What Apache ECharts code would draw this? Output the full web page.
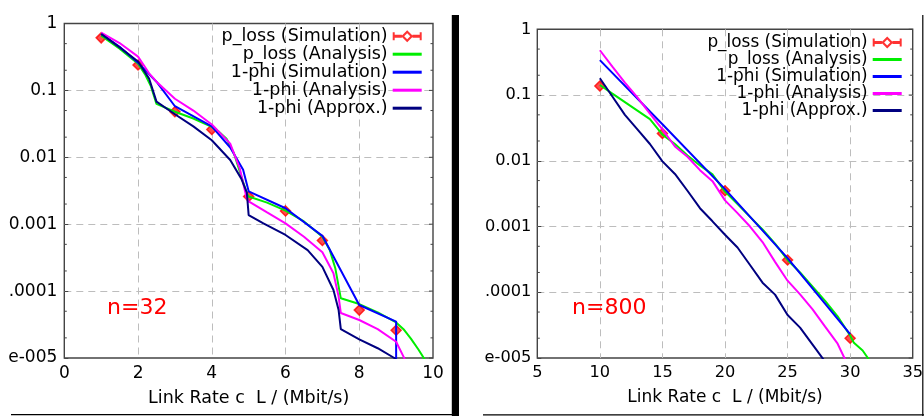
<!DOCTYPE html>
<html>
<head>
<meta charset="utf-8">
<script src="https://cdn.jsdelivr.net/npm/echarts@6/dist/echarts.min.js"></script>
<style>
  html, body { margin: 0; padding: 0; background: #fff; }
  #chart { width: 924px; height: 416px; }
</style>
</head>
<body>
<div id="chart"></div>
<script>
// ---- Series names ----
const seriesNames = [
  'p_loss (Simulation)',
  'p_loss (Analysis)',
  '1-phi (Simulation)',
  '1-phi (Analysis)',
  '1-phi (Approx.)'
];

// ---- Axis ticks ----
const yTickValues = [1e-5, 1e-4, 1e-3, 1e-2, 1e-1, 1];
const yTickLabels = ['1e-005', '0.0001', '0.001', '0.01', '0.1', '1'];
const yMinorTicks = [2e-5, 5e-5, 2e-4, 5e-4, 0.002, 0.005, 0.02, 0.05, 0.2, 0.5];
const xTicksLeft = [0, 2, 4, 6, 8, 10];
const xTicksRight = [5, 10, 15, 20, 25, 30, 35];

// ---- n=32 panel ----
const xSimL = [1, 2, 3, 4, 5, 6, 7, 8, 9];
const pLossSimL = [0.61, 0.24, 0.048, 0.026, 0.0026, 0.00158, 0.00057, 0.000052, 0.000026];

const xPLossAnaL = [1, 1.5, 2, 2.2, 2.35, 2.5, 3, 3.5, 4, 4.2, 4.4, 4.6, 4.8, 4.95, 5, 5.5, 6, 6.5, 7, 7.2, 7.35, 7.45, 7.5, 8, 8.5, 9, 9.2, 9.4, 9.6, 9.75, 9.85];
const pLossAnaL = [0.66, 0.42, 0.25, 0.17, 0.115, 0.063, 0.048, 0.038, 0.0285, 0.024, 0.019, 0.0115, 0.0052, 0.0029, 0.0026, 0.0021, 0.0016, 0.0011, 0.00065, 0.00041, 0.00022, 0.00011, 0.000078, 0.000064, 0.000048, 0.000034, 0.000027, 0.0000195, 0.0000135, 0.00001, 0.000008];

const xPhiSimL = [1, 1.5, 2, 2.5, 3, 4, 4.5, 4.85, 5, 6, 7, 8, 9, 9];
const phiSimL = [0.70, 0.45, 0.26, 0.135, 0.058, 0.029, 0.014, 0.0065, 0.0031, 0.00173, 0.00067, 0.000062, 0.000035, 0.0000001];

const xPhiAnaL = [1, 1.5, 2, 2.3, 2.5, 3, 3.5, 4, 4.5, 4.76, 4.95, 5, 5.5, 6, 6.5, 7, 7.3, 7.44, 7.5, 8, 8.5, 9, 9.2, 9.3];
const phiAnaL = [0.73, 0.51, 0.32, 0.18, 0.135, 0.075, 0.05, 0.031, 0.016, 0.0068, 0.0024, 0.0022, 0.0015, 0.00103, 0.00065, 0.00038, 0.000185, 0.000083, 0.000047, 0.000037, 0.000027, 0.0000175, 0.0000105, 0.000008];

const xPhiAppL = [1, 1.5, 2, 2.3, 2.5, 3, 3.5, 4, 4.5, 4.8, 4.95, 5, 5.4, 6, 6.6, 7, 7.3, 7.44, 7.5, 8, 8.5, 8.95, 9.1];
const phiAppL = [0.70, 0.44, 0.27, 0.15, 0.068, 0.044, 0.029, 0.018, 0.0091, 0.0048, 0.003, 0.00137, 0.00103, 0.00069, 0.00041, 0.00023, 0.000104, 0.000052, 0.000027, 0.000019, 0.000014, 0.00001, 0.0000085];

// ---- n=800 panel ----
const xSimR = [10, 15, 20, 25, 30];
const pLossSimR = [0.137, 0.026, 0.0035, 0.00031, 0.00002];

const xPLossAnaR = [10, 11, 12, 13, 14, 15, 16, 17, 18, 19, 20, 21, 22, 23, 24, 25, 26, 27, 28, 29, 30, 30.3, 31, 31.5];
const pLossAnaR = [0.142, 0.105, 0.078, 0.058, 0.043, 0.025, 0.018, 0.012, 0.0085, 0.0062, 0.0034, 0.0022, 0.0014, 0.0009, 0.00055, 0.00031, 0.0002, 0.000122, 0.000074, 0.000043, 0.000022, 0.000017, 0.000013, 0.0000095];

const xPhiSimR = [10, 15, 20, 25, 30];
const phiSimR = [0.34, 0.036, 0.0037, 0.00033, 0.000023];

const xPhiAnaR = [10, 11, 12, 13, 14, 15, 16, 17, 18, 19, 20, 21, 22, 23, 24, 25, 26, 27, 28, 29, 29.6];
const phiAnaR = [0.48, 0.27, 0.155, 0.092, 0.052, 0.030, 0.0165, 0.0115, 0.0072, 0.0049, 0.0025, 0.0016, 0.001, 0.00058, 0.00029, 0.00015, 0.000093, 0.000055, 0.00003, 0.0000165, 0.0000095];

const xPhiAppR = [10, 11, 12, 13, 14, 15, 16, 17, 18, 19, 20, 21, 22, 23, 24, 25, 26, 27, 28];
const phiAppR = [0.18, 0.095, 0.05, 0.03, 0.018, 0.0098, 0.0063, 0.0035, 0.0019, 0.0012, 0.00075, 0.00048, 0.00026, 0.00014, 0.000092, 0.000045, 0.000029, 0.000016, 0.0000088];

// ---- Styling ----
const FONT = 'DejaVu Sans';
const colors = ['#ff0000', '#00ee00', '#0000ff', '#ff00ff', '#000080'];
const frameColor = '#444';

function pairs(xs, ys) { return xs.map((x, i) => [x, ys[i]]); }

function yLabel(v) {
  for (let i = 0; i < yTickValues.length; i++) {
    if (Math.abs(Math.log10(v) - Math.log10(yTickValues[i])) < 1e-6) return yTickLabels[i];
  }
  return '';
}

// Right-side major ticks and both-side minor ticks of the log axis.
function tickData(xMin) {
  const d = [];
  yTickValues.forEach(v => d.push([xMin, v, 1]));
  yMinorTicks.forEach(v => d.push([xMin, v, 0]));
  return d;
}
function renderTick(params, api) {
  const v = api.value(1);
  const major = api.value(2) === 1;
  const y = api.coord([api.value(0), v])[1];
  const cs = params.coordSys;
  const len = major ? 4 : 2.5;
  const style = { stroke: frameColor, lineWidth: 1 };
  const children = [];
  if (!major) {
    children.push({ type: 'line', shape: { x1: cs.x, y1: y, x2: cs.x + len, y2: y }, style });
  }
  children.push({ type: 'line', shape: { x1: cs.x + cs.width, y1: y, x2: cs.x + cs.width - len, y2: y }, style });
  return { type: 'group', children };
}

// Legend icons: error-bar with hollow diamond, and plain line swatch.
const iconSim = 'path://M0,4.5H9.2V7.5H0Z M0,2H2V10H0Z M19.8,4.5H29V7.5H19.8Z M27,2H29V10H27Z ' +
                'M14.5,0L20.5,6L14.5,12L8.5,6Z M14.5,3L11.5,6L14.5,9L17.5,6Z';
const iconLine = 'path://M0,0H29V3H0Z';

function legendData() {
  return seriesNames.map((n, i) => ({
    name: n,
    icon: i === 0 ? iconSim : iconLine,
    itemStyle: { color: colors[i], borderWidth: 0 }
  }));
}

function panelSeries(gi, sets) {
  const out = [];
  out.push({
    name: seriesNames[0], type: 'scatter', xAxisIndex: gi, yAxisIndex: gi,
    data: sets[0], symbol: 'diamond', symbolSize: 10,
    itemStyle: { color: '#ff2020', borderColor: colors[0], borderWidth: 1.5 },
    z: 2
  });
  for (let k = 1; k < 5; k++) {
    out.push({
      name: seriesNames[k], type: 'line', xAxisIndex: gi, yAxisIndex: gi,
      data: sets[k], showSymbol: false, symbol: 'none', clip: true,
      lineStyle: { color: colors[k], width: 2 }, itemStyle: { color: colors[k] },
      z: 3
    });
  }
  return out;
}

function xAxisCfg(gi, min, max, interval, nameSize, labelSize) {
  return {
    type: 'value', gridIndex: gi, min, max, interval,
    name: 'Link Rate c  L / (Mbit/s)', nameLocation: 'middle', nameGap: 31,
    nameTextStyle: { fontFamily: FONT, fontSize: nameSize, color: '#000' },
    axisLine: { show: false }, axisTick: { show: false },
    axisLabel: { fontFamily: FONT, fontSize: labelSize, color: '#000', margin: 7 },
    splitLine: { show: true, showMinLine: false, showMaxLine: false,
      lineStyle: { color: '#bdbdbd', type: [7, 5], width: 1 } }
  };
}
function yAxisCfg(gi, labelSize, margin) {
  return {
    type: 'log', logBase: 10, gridIndex: gi, min: yTickValues[0], max: yTickValues[yTickValues.length - 1],
    interval: 1,
    axisLine: { show: false },
    axisTick: { show: true, inside: true, length: 4, lineStyle: { color: frameColor } },
    axisLabel: { fontFamily: FONT, fontSize: labelSize, color: '#000', margin, formatter: yLabel },
    splitLine: { show: true, showMinLine: false, showMaxLine: false,
      lineStyle: { color: '#bdbdbd', type: [7, 5], width: 1 } }
  };
}

const chart = echarts.init(document.getElementById('chart'), null, { renderer: 'canvas' });

const option = {
  backgroundColor: '#ffffff',
  animation: false,
  grid: [
    { left: 64.3, top: 23.5, width: 368.7, height: 334.5, show: true, containLabel: false,
      outerBoundsMode: 'none',
      borderColor: frameColor, borderWidth: 1.4, backgroundColor: 'transparent' },
    { left: 537.3, top: 29.3, width: 375.4, height: 328.7, show: true, containLabel: false,
      outerBoundsMode: 'none',
      borderColor: frameColor, borderWidth: 1.4, backgroundColor: 'transparent' }
  ],
  xAxis: [
    xAxisCfg(0, xTicksLeft[0], xTicksLeft[xTicksLeft.length - 1], 2, 17.5, 17),
    xAxisCfg(1, xTicksRight[0], xTicksRight[xTicksRight.length - 1], 5, 17, 16.2)
  ],
  yAxis: [yAxisCfg(0, 17, 7), yAxisCfg(1, 16.2, 6)],
  legend: [
    {
      orient: 'vertical', right: 502.3, top: 27.2, padding: 0, itemGap: 0,
      itemWidth: 29, itemHeight: 12, align: 'right', selectedMode: false,
      textStyle: { fontFamily: FONT, fontSize: 17.5, color: '#000', lineHeight: 15.8 },
      data: legendData()
    },
    {
      orient: 'vertical', right: 22.3, top: 34, padding: 0, itemGap: 0,
      itemWidth: 29, itemHeight: 12, align: 'right', selectedMode: false,
      textStyle: { fontFamily: FONT, fontSize: 16.9, color: '#000', lineHeight: 15.5 },
      data: legendData()
    }
  ],
  series: [
    ...panelSeries(0, [
      pairs(xSimL, pLossSimL), pairs(xPLossAnaL, pLossAnaL), pairs(xPhiSimL, phiSimL),
      pairs(xPhiAnaL, phiAnaL), pairs(xPhiAppL, phiAppL)
    ]),
    ...panelSeries(1, [
      pairs(xSimR, pLossSimR), pairs(xPLossAnaR, pLossAnaR), pairs(xPhiSimR, phiSimR),
      pairs(xPhiAnaR, phiAnaR), pairs(xPhiAppR, phiAppR)
    ]),
    { type: 'custom', xAxisIndex: 0, yAxisIndex: 0, silent: true, z: 4,
      data: tickData(xTicksLeft[0]), renderItem: renderTick },
    { type: 'custom', xAxisIndex: 1, yAxisIndex: 1, silent: true, z: 4,
      data: tickData(xTicksRight[0]), renderItem: renderTick }
  ],
  graphic: [
    { type: 'text', x: 137.2, y: 308.7, z: 50,
      style: { text: 'n=32', fill: '#ff0000', fontFamily: FONT, fontSize: 22, align: 'center', verticalAlign: 'middle' } },
    { type: 'text', x: 609.2, y: 308.3, z: 50,
      style: { text: 'n=800', fill: '#ff0000', fontFamily: FONT, fontSize: 22, align: 'center', verticalAlign: 'middle' } },
    // panel edges
    { type: 'rect', z: 100, shape: { x: 0, y: 0, width: 8.6, height: 416 }, style: { fill: '#ffffff' } },
    { type: 'rect', z: 100, shape: { x: 459, y: 0, width: 25.7, height: 416 }, style: { fill: '#ffffff' } },
    { type: 'rect', z: 101, shape: { x: 451.8, y: 15, width: 7.2, height: 401 }, style: { fill: '#000000' } },
    { type: 'line', z: 101, shape: { x1: 11, y1: 414.6, x2: 452, y2: 414.6 }, style: { stroke: '#000', lineWidth: 1.4 } },
    { type: 'line', z: 101, shape: { x1: 483, y1: 414.8, x2: 924, y2: 414.8 }, style: { stroke: '#000', lineWidth: 1.2 } },
    { type: 'line', z: 101, shape: { x1: 922.8, y1: 15, x2: 922.8, y2: 416 }, style: { stroke: '#000', lineWidth: 1.2 } }
  ]
};

chart.setOption(option);
</script>
</body>
</html>
